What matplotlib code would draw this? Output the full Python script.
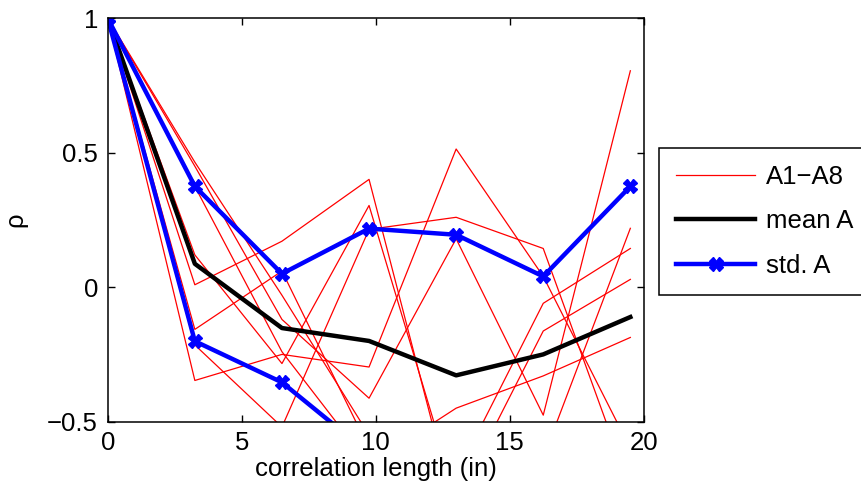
import numpy as np
import matplotlib
matplotlib.use("Agg")
import matplotlib.pyplot as plt

plt.rcParams['font.family'] = ['Liberation Sans', 'DejaVu Sans']
plt.rcParams['font.size'] = 18.5

# correlation lag positions (in)
lag = [0, 3.25, 6.5, 9.75, 13, 16.25, 19.5]

# individual curves A1..A8 (values below -0.5 are clipped by the axes)
A1 = [1, 0.009, 0.171, 0.401, -0.85, -0.635, 0.219]
A2 = [1, -0.347, -0.25, -0.297, 0.514, 0.04, -0.60]
A3 = [1, -0.157, 0.06, -0.60, -0.70, -0.06, 0.144]
A4 = [1, 0.12, -0.284, 0.304, -0.778, -0.52, -0.55]
A5 = [1, -0.215, -0.52, 0.215, 0.26, 0.144, -0.75]
A6 = [1, 0.465, -0.03, -0.55, -0.80, -0.163, 0.029]
A7 = [1, 0.45, -0.12, -0.413, 0.18, -0.476, 0.805]
A8 = [1, 0.375, -0.24, -0.66, -0.45, -0.33, -0.187]
curves = [A1, A2, A3, A4, A5, A6, A7, A8]

mean_A = [1, 0.087, -0.152, -0.200, -0.328, -0.250, -0.111]
std_A = [0, 0.288, 0.202, 0.418, 0.523, 0.290, 0.486]

fig = plt.figure(figsize=(8.62, 4.96), dpi=100)
ax = fig.add_axes([0.125, 0.150, 0.6218, 0.813])

for i, c in enumerate(curves):
    ax.plot(lag, c, color='red', lw=0.9, label='A1\u2212A8' if i == 0 else None)

ax.plot(lag, mean_A, color='black', lw=3.2, label='mean A')

m = np.array(mean_A)
s = np.array(std_A)
ax.plot(lag, m + s, color='blue', lw=3.2, marker='X', ms=10, label='std. A')
ax.plot(lag, m - s, color='blue', lw=3.2, marker='X', ms=10)

ax.set_xlim(0, 20)
ax.set_ylim(-0.5, 1)
ax.set_xticks([0, 5, 10, 15, 20])
ax.set_yticks([-0.5, 0, 0.5, 1])
ax.set_yticklabels(['\u22120.5', '0', '0.5', '1'])
ax.tick_params(direction='in', top=True, right=True, length=5, width=1, pad=7)
for sp in ax.spines.values():
    sp.set_linewidth(1.1)

ax.set_xlabel('correlation length (in)', labelpad=1)
ax.set_ylabel('\u03c1', labelpad=14)

leg = ax.legend(loc='upper left', bbox_to_anchor=(659/862, 1-148/496),
                bbox_transform=fig.transFigure, fancybox=False, framealpha=1,
                edgecolor='black', handlelength=3.1, handletextpad=0.4,
                labelspacing=0.8, borderpad=0.65, borderaxespad=0)
leg.get_frame().set_linewidth(1.1)

fig.savefig('out.png', dpi=100)
